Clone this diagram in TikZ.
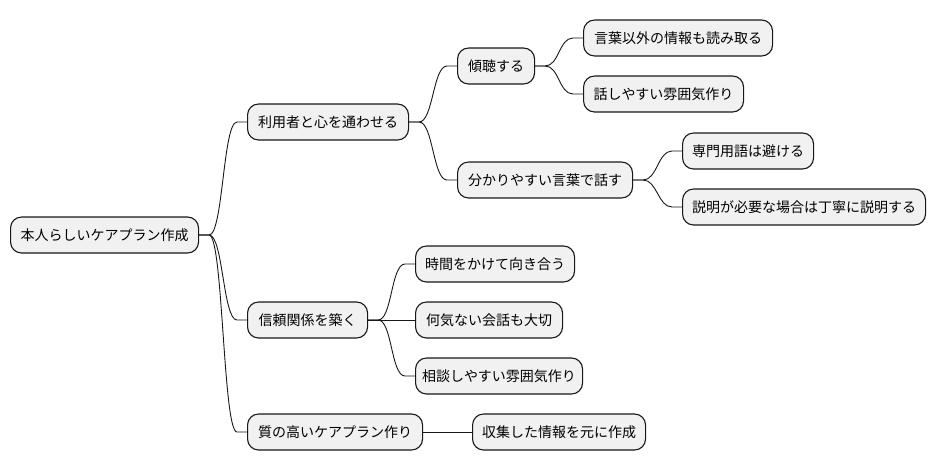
\documentclass[tikz,border=0pt]{standalone}
\usepackage{fontspec}
\setmainfont{Noto Sans CJK JP}
\usetikzlibrary{calc}
\definecolor{boxfill}{HTML}{F1F1F1}
\definecolor{boxline}{HTML}{181818}
\tikzset{
  mm/.style={draw=boxline, fill=boxfill, line width=1.1pt, rounded corners=11pt,
    anchor=west, inner sep=0pt, align=center,
    font=\fontsize{14}{17}\selectfont},
  conn/.style={draw=boxline, line width=0.9pt},
}
\newcommand\mmnode[6]{% name, left, right, top, bottom, text
  \node[mm, minimum width=#3-#2, minimum height=#5-#4] (#1) at (#2, {(#4+#5)/2}) {#6};}
\newcommand\curvelink[2]{%
  \draw[conn] (#1.east) -- ([xshift=10pt]#1.east)
    .. controls ([xshift=24pt]#1.east) and ([xshift=-24pt]#2.west) ..
    ([xshift=-10pt]#2.west) -- (#2.west);}
\begin{document}
\begin{tikzpicture}[x=1pt,y=-1pt]
\useasboundingbox (0,0) rectangle (936,471);
\mmnode{root}{10}{198}{217}{253}{本人らしいケアプラン作成}
\mmnode{a}{247}{408}{104}{140}{利用者と心を通わせる}
\mmnode{b}{247}{367}{302}{338}{信頼関係を築く}
\mmnode{c}{247}{422}{414}{450}{質の高いケアプラン作り}
\mmnode{a1}{457}{534}{48}{84}{傾聴する}
\mmnode{a2}{457}{632}{162}{198}{分かりやすい言葉で話す}
\mmnode{a11}{583}{772}{20}{56}{言葉以外の情報も読み取る}
\mmnode{a12}{583}{743}{76}{112}{話しやすい雰囲気作り}
\mmnode{a21}{682}{813}{133}{169}{専門用語は避ける}
\mmnode{a22}{682}{925}{189}{225}{説明が必要な場合は丁寧に説明する}
\mmnode{b1}{415}{574}{246}{282}{時間をかけて向き合う}
\mmnode{b2}{415}{562}{302}{338}{何気ない会話も大切}
\mmnode{b3}{415}{582}{358}{394}{相談しやすい雰囲気作り}
\mmnode{c1}{472}{645}{414}{450}{収集した情報を元に作成}
\curvelink{root}{a}
\curvelink{root}{b}
\curvelink{root}{c}
\curvelink{a}{a1}
\curvelink{a}{a2}
\curvelink{a1}{a11}
\curvelink{a1}{a12}
\curvelink{a2}{a21}
\curvelink{a2}{a22}
\curvelink{b}{b1}
\draw[conn] (b.east) -- (b2.west);
\curvelink{b}{b3}
\draw[conn] (c.east) -- (c1.west);
\end{tikzpicture}
\end{document}
